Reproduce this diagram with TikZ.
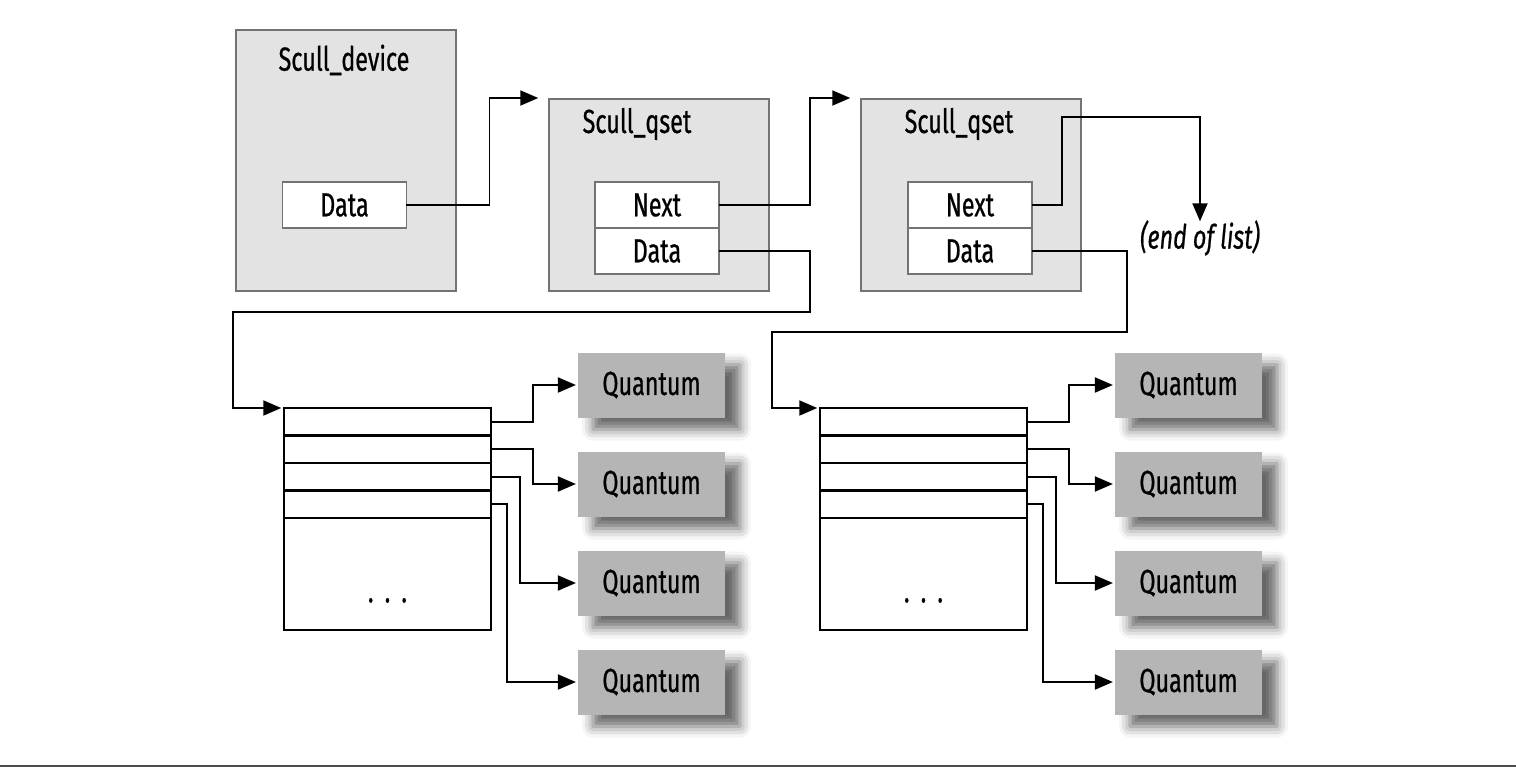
\documentclass[tikz,border=0pt]{standalone}
\usepackage{fontspec}
\setmainfont{Fira Sans}[FakeStretch=0.7,FakeBold=0.6]
\usetikzlibrary{positioning,shadows.blur,arrows.meta}
\tikzset{holder/.style={draw=black!55,fill=black!11,line width=0.9pt,minimum width=4.4cm,anchor=north west},
         field/.style={draw=black!55,fill=white,line width=0.9pt,minimum width=2.48cm,minimum height=0.92cm,outer sep=0pt},
         quantum/.style={fill=black!29,minimum width=2.94cm,minimum height=1.3cm,
                         blur shadow={shadow xshift=0.3cm,shadow yshift=-0.24cm,shadow blur radius=0.22cm,shadow opacity=60}},
         cell/.style={draw,line width=1.3pt,minimum width=4.14cm,minimum height=0.55cm,outer sep=0pt},
         line/.style={line width=1.1pt,-{Triangle[length=0.36cm,width=0.3cm]}}
}
\tikzstyle{arrow} = [line,shorten >=1pt]

\begin{document}
\begin{tikzpicture}[x=0.02cm,y=-0.02cm,every node/.style={font=\fontsize{19}{23}\selectfont}]
\useasboundingbox (0,0) rectangle (1516,768);

% the device
\node[holder,minimum height=5.22cm] (dev) at (235,29) {};
\node (devname) at (344,60) {Scull\_device};
\node[field] (devdata) at (344.5,205) {Data};

% the two qsets
\node[holder,minimum height=3.84cm] (qsetA) at (548,98) {};
\node (qsetAname) at (637,124) {Scull\_qset};
\node[field] (qanext) at (657,205) {Next};
\node[field,below=0pt of qanext] (qadata) {Data};

\node[holder,minimum height=3.84cm] (qsetB) at (860,98) {};
\node (qsetBname) at (959,124) {Scull\_qset};
\node[field] (qbnext) at (970,205) {Next};
\node[field,below=0pt of qbnext] (qbdata) {Data};

\node (eol) at (1200,238) {\itshape (end of list)};

% the two arrays
\foreach \i in {1,...,4} {
  \node[cell] (ra\i) at (387.5,{408+27.5*(\i-0.5)}) {};
  \node[cell] (rb\i) at (923.5,{408+27.5*(\i-0.5)}) {};
}
\node[cell,minimum height=2.24cm,below=0pt of ra4] (raend) {};
\node[cell,minimum height=2.24cm,below=0pt of rb4] (rbend) {};
\node[above=0.42cm of raend.south] (radots) {.\,\,.\,\,.};
\node[above=0.42cm of rbend.south] (rbdots) {.\,\,.\,\,.};

% the quanta
\foreach \i/\y in {1/385,2/484,3/583,4/682} {
  \node[quantum] (quA\i) at (651.5,\y) {Quantum};
  \node[quantum] (quB\i) at (1188.5,\y) {Quantum};
}

% connectors
\draw[arrow] (devdata.east) -- ++(83,0) |- ([xshift=-0.16cm]qsetA.north west);
\draw[arrow] (qanext.east) -- ++(91,0) |- ([xshift=-0.16cm]qsetB.north west);
\draw[arrow] (qbnext.east) -- ++(30,0) |- ([yshift=1.94cm]eol.north) -- ([yshift=-0.18cm]eol.north);
\draw[arrow] (qadata.east) -| ++(91,61) -| ([xshift=-1.02cm]ra1.north west) -- ([xshift=-0.02cm]ra1.north west);
\draw[arrow] (qbdata.east) -| ++(95,81) -| ([xshift=-0.96cm]rb1.north west) -- ([xshift=-0.02cm]rb1.north west);
\foreach \i/\d in {1/42,2/42,3/29,4/16} {
  \draw[arrow] (ra\i.east) -- ++(\d,0) |- (quA\i.west);
  \draw[arrow] (rb\i.east) -- ++(\d,0) |- (quB\i.west);
}

\draw[black!70,line width=1.2pt] (0,766) -- (1516,766);
\end{tikzpicture}
\end{document}
